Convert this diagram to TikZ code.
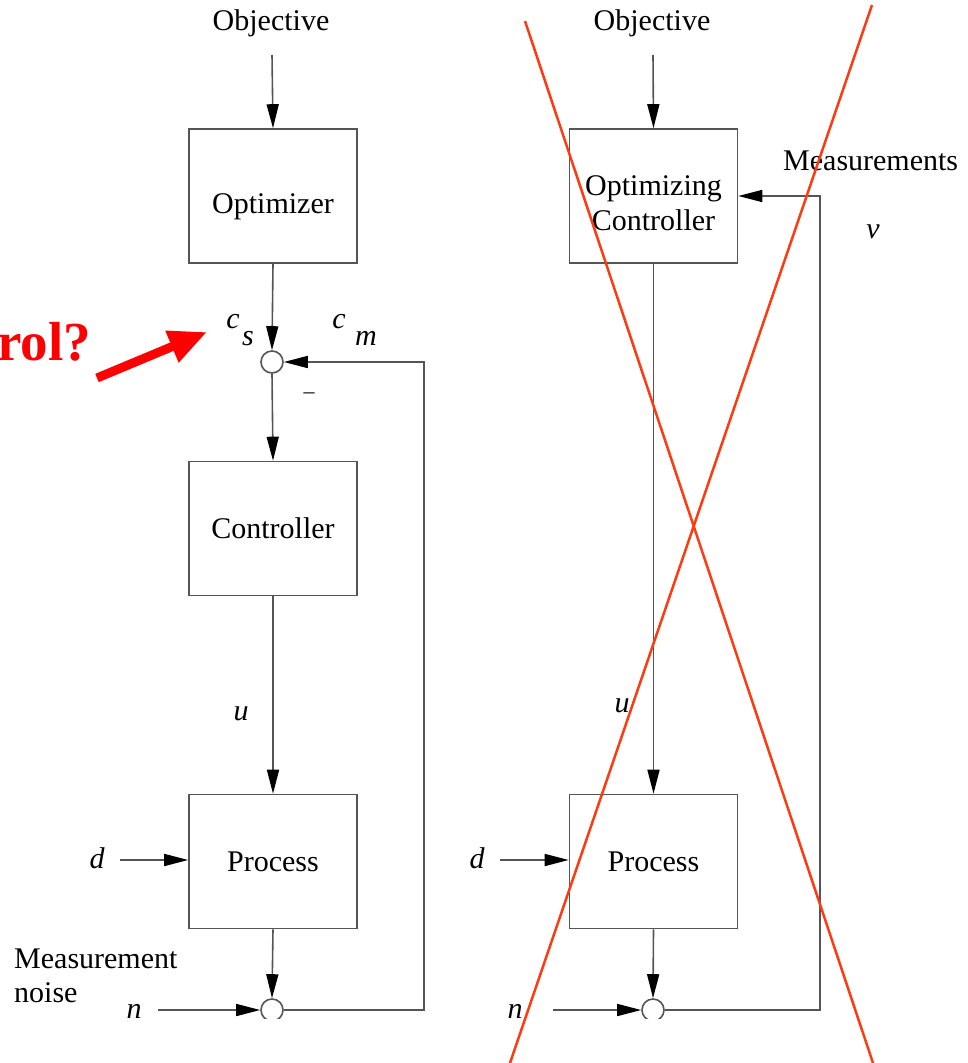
\documentclass[tikz,border=0pt]{standalone}
\usepackage{fontspec}
\setmainfont{Liberation Serif}
\usetikzlibrary{arrows.meta,calc}
\definecolor{linegray}{HTML}{555555}
\definecolor{xred}{HTML}{FF3A10}
\definecolor{boldred}{HTML}{FF0000}
\begin{document}
\begin{tikzpicture}[x=1pt,y=-1pt,
  every node/.style={font=\fontsize{30}{34}\selectfont, inner sep=0pt},
  blockbox/.style={draw=linegray, line width=1.6pt, minimum width=168pt, minimum height=134pt, align=center},
  sumcirc/.style={circle, draw=linegray, line width=1.6pt, minimum size=22pt},
  conn/.style={draw=linegray, line width=1.6pt},
  arr/.style={conn, -{Triangle[length=24pt,width=12pt,color=black]}},
  lbl/.style={anchor=base, font=\fontsize{30}{34}\selectfont\itshape},
  xline/.style={draw=xred, line width=2.5pt}
]
\useasboundingbox (0,0) rectangle (967,1063);
\begin{scope}
\clip (0,0) rectangle (967,1018);
% left column
\node[anchor=base] (obj1) at (271,30) {Objective};
\coordinate (o1) at (272,55);
\node[blockbox, text height=41pt, text depth=6.5pt] (opt) at (273,196) {Optimizer};
\node[sumcirc] (s1) at (272,362) {};
\node[blockbox] (ctrl) at (273,528.5) {Controller};
\node[blockbox] (proc1) at (273,861.5) {Process};
\node[sumcirc] (s2) at (272,1010) {};
\coordinate (fbl) at (424,1010);
\coordinate (d1) at (120,860);
\coordinate (n1) at (158,1010);
\draw[arr] (o1) -- (opt.north);
\draw[arr] (opt.south) -- (s1.north);
\draw[arr] (s1.south) -- (ctrl.north);
\draw[arr] (ctrl.south) -- (proc1.north);
\draw[arr] (proc1.south) -- (s2.north);
\draw[arr] (d1) -- (d1 -| proc1.west);
\draw[arr] (n1) -- (s2.west);
\draw[arr] (s2.east) -- (fbl) |- (s1.east);
\node[lbl] (cs1) at (233,328) {c};
\node[lbl] (cs2) at (248,345) {s};
\node[lbl] (cm1) at (339,328) {c};
\node[lbl] (cm2) at (366,345) {m};
\node[anchor=base, font=\fontsize{22}{22}\selectfont] (minus) at (309,398) {–};
\node[lbl] (u1) at (241,720) {u};
\node[lbl] (dd1) at (97,868) {d};
\node[lbl] (nn1) at (134,1018) {n};
\node[anchor=base west, align=left] (mn) at (14,1002) {Measurement\\noise};
% right column
\node[anchor=base] (obj2) at (652,30) {Objective};
\coordinate (o2) at (653,55);
\node[blockbox] (oc) at (653.5,196) {};
\node[anchor=base, align=center, font=\fontsize{30}{35}\selectfont] (octext) at (653.5,230) {Optimizing\\Controller};
\node[blockbox] (proc2) at (653.5,861.5) {Process};
\node[sumcirc] (s3) at (653,1010) {};
\coordinate (fbr) at (820,196);
\coordinate (d2) at (500,860);
\coordinate (n2) at (553,1010);
\draw[arr] (o2) -- (oc.north);
\draw[arr] (oc.south) -- (proc2.north);
\draw[arr] (proc2.south) -- (s3.north);
\draw[arr] (d2) -- (d2 -| proc2.west);
\draw[arr] (n2) -- (s3.west);
\draw[arr] (s3.east) -| (fbr) -- (oc.east);
\node[anchor=base west] (meas) at (783,170) {Measurements};
\node[lbl] (vv) at (873,238) {v};
\node[lbl] (u2) at (622,712) {u};
\node[lbl] (dd2) at (477,868) {d};
\node[lbl] (nn2) at (515,1018) {n};
\end{scope}
% red annotation
\node[anchor=base east, text=boldred, font=\fontsize{55}{55}\selectfont\bfseries] (rol) at (91,360) {rol?};
\coordinate (ra) at (97,378);
\coordinate (rb) at (207,332);
\draw[boldred, line width=9pt, -{Triangle[length=38pt,width=32pt]}] (ra) -- (rb);
% cross
\coordinate (x1a) at (525,21);
\coordinate (x1b) at (873,1063);
\coordinate (x2a) at (872,5);
\coordinate (x2b) at (510,1063);
\draw[xline] (x1a) -- (x1b);
\draw[xline] (x2a) -- (x2b);
\end{tikzpicture}
\end{document}
